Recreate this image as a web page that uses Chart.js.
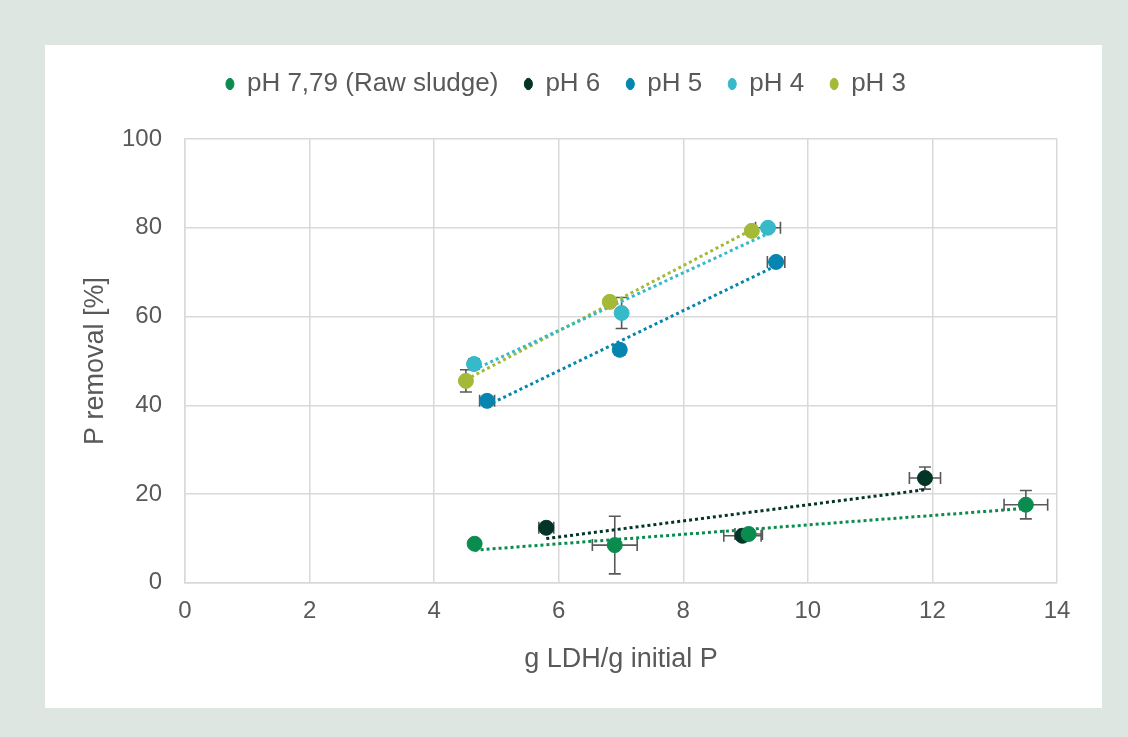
<!DOCTYPE html>
<html>
<head>
<meta charset="utf-8">
<script src="https://cdn.jsdelivr.net/npm/chart.js@4"></script>
<style>
  html, body { margin: 0; padding: 0; background: #dde6e0; }
  #frame { position: absolute; left: 45px; top: 45px; width: 1057px; height: 663px; background: #fff; }
  canvas { display: block; }
</style>
</head>
<body>
<div id="frame"><canvas id="removal" width="1057" height="663"></canvas></div>
<script>
// dose of LDH per g initial P vs. P removal, one series per pH
const seriesNames = ["pH 7,79 (Raw sludge)", "pH 6", "pH 5", "pH 4", "pH 3"];
const seriesColors = ["#0b8c4f", "#023527", "#0785b1", "#36b9c8", "#a3b937"];

const xRaw = [4.65, 6.9, 9.05, 13.5];
const yRaw = [8.8, 8.5, 11.0, 17.6];
const xErrRaw = [0.05, 0.36, 0.22, 0.35];
const yErrRaw = [0.5, 6.5, 0.8, 3.2];

const xPh6 = [5.8, 8.95, 11.88];
const yPh6 = [12.4, 10.6, 23.6];
const xErrPh6 = [0.12, 0.3, 0.25];
const yErrPh6 = [0.8, 0.6, 2.5];

const xPh5 = [4.85, 6.98, 9.49];
const yPh5 = [41.0, 52.5, 72.3];
const xErrPh5 = [0.12, 0.08, 0.14];
const yErrPh5 = [0.8, 0.8, 0.8];

const xPh4 = [4.64, 7.01, 9.36];
const yPh4 = [49.3, 60.8, 80.0];
const xErrPh4 = [0.08, 0.06, 0.2];
const yErrPh4 = [0.6, 3.5, 0.6];

const xPh3 = [4.51, 6.82, 9.1];
const yPh3 = [45.5, 63.3, 79.3];
const xErrPh3 = [0.05, 0.05, 0.05];
const yErrPh3 = [2.5, 0.6, 0.5];

const xTicks = [0, 2, 4, 6, 8, 10, 12, 14];
const yTicks = [0, 20, 40, 60, 80, 100];

const groups = [
  [xRaw, yRaw, xErrRaw, yErrRaw],
  [xPh6, yPh6, xErrPh6, yErrPh6],
  [xPh5, yPh5, xErrPh5, yErrPh5],
  [xPh4, yPh4, xErrPh4, yErrPh4],
  [xPh3, yPh3, xErrPh3, yErrPh3]
];

// least squares fit, drawn between the smallest and largest x of the series
function trend(xs, ys) {
  const n = xs.length;
  const mx = xs.reduce((a, b) => a + b, 0) / n;
  const my = ys.reduce((a, b) => a + b, 0) / n;
  let sxy = 0, sxx = 0;
  for (let i = 0; i < n; i++) {
    sxy += (xs[i] - mx) * (ys[i] - my);
    sxx += (xs[i] - mx) * (xs[i] - mx);
  }
  const b = sxy / sxx, a = my - b * mx;
  const lo = Math.min(...xs), hi = Math.max(...xs);
  return [{ x: lo, y: a + b * lo }, { x: hi, y: a + b * hi }];
}

const datasets = [];
groups.forEach((g, i) => {
  datasets.push({
    type: "line",
    label: "trend " + i,
    data: trend(g[0], g[1]),
    borderColor: seriesColors[i],
    borderWidth: 3,
    borderDash: [3, 3],
    borderCapStyle: "butt",
    pointRadius: 0,
    fill: false,
    order: 2
  });
});
groups.forEach((g, i) => {
  datasets.push({
    type: "scatter",
    label: seriesNames[i],
    data: g[0].map((x, k) => ({ x: x, y: g[1][k], ex: g[2][k], ey: g[3][k] })),
    backgroundColor: seriesColors[i],
    borderColor: seriesColors[i],
    pointRadius: 7.5,
    pointHoverRadius: 7.5,
    order: 1
  });
});

// whiskers with caps on both axes, under the markers
const errorBars = {
  id: "errorBars",
  beforeDatasetsDraw(chart) {
    const ctx = chart.ctx;
    const xs = chart.scales.x, ys = chart.scales.y;
    ctx.save();
    ctx.strokeStyle = "#595959";
    ctx.lineWidth = 1.6;
    chart.data.datasets.forEach(ds => {
      if (ds.type !== "scatter") return;
      ds.data.forEach(p => {
        const cx = xs.getPixelForValue(p.x), cy = ys.getPixelForValue(p.y);
        const x0 = xs.getPixelForValue(p.x - p.ex), x1 = xs.getPixelForValue(p.x + p.ex);
        const y0 = ys.getPixelForValue(p.y - p.ey), y1 = ys.getPixelForValue(p.y + p.ey);
        ctx.beginPath();
        ctx.moveTo(x0, cy); ctx.lineTo(x1, cy);
        ctx.moveTo(x0, cy - 6); ctx.lineTo(x0, cy + 6);
        ctx.moveTo(x1, cy - 6); ctx.lineTo(x1, cy + 6);
        ctx.moveTo(cx, y0); ctx.lineTo(cx, y1);
        ctx.moveTo(cx - 6, y0); ctx.lineTo(cx + 6, y0);
        ctx.moveTo(cx - 6, y1); ctx.lineTo(cx + 6, y1);
        ctx.stroke();
      });
    });
    ctx.restore();
  }
};

// more room between the legend and the plot
const legendGap = {
  id: "legendGap",
  beforeInit(chart) {
    const fit = chart.legend.fit;
    chart.legend.fit = function () {
      fit.call(this);
      this.height += 32;
    };
  }
};

Chart.defaults.font.family = "'Liberation Sans', Arial, sans-serif";
Chart.defaults.color = "#595959";

new Chart(document.getElementById("removal"), {
  data: { datasets: datasets },
  plugins: [errorBars, legendGap],
  options: {
    responsive: false,
    animation: false,
    layout: { padding: { left: 30, right: 45, top: 0, bottom: 28 } },
    plugins: {
      tooltip: { enabled: false },
      legend: {
        position: "top",
        labels: {
          filter: item => !item.text.startsWith("trend"),
          usePointStyle: true,
          pointStyle: "circle",
          boxWidth: 8,
          boxHeight: 8,
          pointStyleWidth: 8,
          padding: 26,
          font: { size: 26 },
          color: "#595959"
        }
      }
    },
    scales: {
      x: {
        type: "linear",
        min: 0, max: 14,
        afterBuildTicks: axis => { axis.ticks = xTicks.map(v => ({ value: v })); },
        grid: { color: "#d9d9d9", lineWidth: 1.5, drawTicks: false },
        border: { color: "#d9d9d9", width: 1.5 },
        ticks: { font: { size: 24 }, padding: 14 },
        title: { display: true, text: "g LDH/g initial P", font: { size: 27 }, padding: { top: 4 } }
      },
      y: {
        type: "linear",
        min: 0, max: 100,
        afterBuildTicks: axis => { axis.ticks = yTicks.map(v => ({ value: v })); },
        afterFit: axis => { axis.width = 110; },
        grid: { color: "#d9d9d9", lineWidth: 1.5, drawTicks: false },
        border: { color: "#d9d9d9", width: 1.5 },
        ticks: { font: { size: 24 }, padding: 23 },
        title: { display: true, text: "P removal [%]", font: { size: 27 }, padding: { top: 4, bottom: 4 } }
      }
    }
  }
});
</script>
</body>
</html>
